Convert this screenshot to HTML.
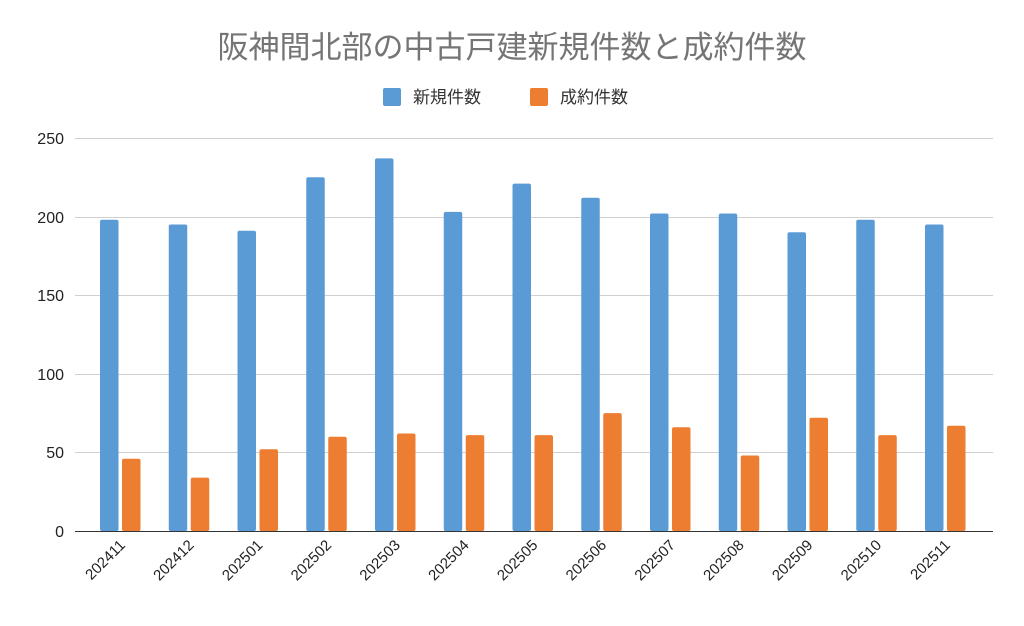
<!DOCTYPE html>
<html><head><meta charset="utf-8"><style>
body{margin:0;background:#fff;}
svg{display:block;font-family:"Liberation Sans","Noto Sans CJK JP",sans-serif;}
</style></head><body>
<svg width="1024" height="626" viewBox="0 0 1024 626">
<rect width="1024" height="626" fill="#fff"/>
<text x="512" y="58" text-anchor="middle" font-size="31" fill="#757575">阪神間北部の中古戸建新規件数と成約件数</text>
<rect x="383" y="88" width="18" height="18" rx="2" fill="#5b9bd5"/>
<text x="413" y="103" font-size="17" fill="#333">新規件数</text>
<rect x="530" y="88" width="18" height="18" rx="2" fill="#ed7d31"/>
<text x="560" y="103" font-size="17" fill="#333">成約件数</text>
<g stroke="#d0d0d0" stroke-width="1">
<line x1="75" x2="993" y1="138.5" y2="138.5"/>
<line x1="75" x2="993" y1="217.5" y2="217.5"/>
<line x1="75" x2="993" y1="295.5" y2="295.5"/>
<line x1="75" x2="993" y1="374.5" y2="374.5"/>
<line x1="75" x2="993" y1="452.5" y2="452.5"/>
</g>
<g font-size="16" fill="#222" text-anchor="end">
<text x="64" y="144">250</text><text x="64" y="223">200</text><text x="64" y="301">150</text>
<text x="64" y="380">100</text><text x="64" y="458">50</text><text x="64" y="537">0</text>
</g>
<g fill="#5b9bd5">
<rect x="100" y="219.7" width="18.5" height="311.3" rx="2"/>
<rect x="168.75" y="224.5" width="18.5" height="306.5" rx="2"/>
<rect x="237.5" y="230.7" width="18.5" height="300.3" rx="2"/>
<rect x="306.25" y="177.3" width="18.5" height="353.7" rx="2"/>
<rect x="375" y="158.4" width="18.5" height="372.6" rx="2"/>
<rect x="443.75" y="211.9" width="18.5" height="319.1" rx="2"/>
<rect x="512.5" y="183.6" width="18.5" height="347.4" rx="2"/>
<rect x="581.25" y="197.7" width="18.5" height="333.3" rx="2"/>
<rect x="650" y="213.5" width="18.5" height="317.5" rx="2"/>
<rect x="718.75" y="213.5" width="18.5" height="317.5" rx="2"/>
<rect x="787.5" y="232.3" width="18.5" height="298.7" rx="2"/>
<rect x="856.25" y="219.7" width="18.5" height="311.3" rx="2"/>
<rect x="925" y="224.5" width="18.5" height="306.5" rx="2"/>
</g>
<g fill="#ed7d31">
<rect x="122" y="458.7" width="18.5" height="72.3" rx="2"/>
<rect x="190.75" y="477.6" width="18.5" height="53.4" rx="2"/>
<rect x="259.5" y="449.3" width="18.5" height="81.7" rx="2"/>
<rect x="328.25" y="436.7" width="18.5" height="94.3" rx="2"/>
<rect x="397" y="433.5" width="18.5" height="97.5" rx="2"/>
<rect x="465.75" y="435.1" width="18.5" height="95.9" rx="2"/>
<rect x="534.5" y="435.1" width="18.5" height="95.9" rx="2"/>
<rect x="603.25" y="413.1" width="18.5" height="117.9" rx="2"/>
<rect x="672" y="427.2" width="18.5" height="103.8" rx="2"/>
<rect x="740.75" y="455.5" width="18.5" height="75.5" rx="2"/>
<rect x="809.5" y="417.8" width="18.5" height="113.2" rx="2"/>
<rect x="878.25" y="435.1" width="18.5" height="95.9" rx="2"/>
<rect x="947" y="425.7" width="18.5" height="105.3" rx="2"/>
</g>
<line x1="75" x2="993" y1="531.5" y2="531.5" stroke="#333" stroke-width="1"/>
<g font-size="15" fill="#222" text-anchor="end">
<text transform="translate(126,546) rotate(-45)">202411</text>
<text transform="translate(194.75,546) rotate(-45)">202412</text>
<text transform="translate(263.5,546) rotate(-45)">202501</text>
<text transform="translate(332.25,546) rotate(-45)">202502</text>
<text transform="translate(401,546) rotate(-45)">202503</text>
<text transform="translate(469.75,546) rotate(-45)">202504</text>
<text transform="translate(538.5,546) rotate(-45)">202505</text>
<text transform="translate(607.25,546) rotate(-45)">202506</text>
<text transform="translate(676,546) rotate(-45)">202507</text>
<text transform="translate(744.75,546) rotate(-45)">202508</text>
<text transform="translate(813.5,546) rotate(-45)">202509</text>
<text transform="translate(882.25,546) rotate(-45)">202510</text>
<text transform="translate(951,546) rotate(-45)">202511</text>
</g>
</svg>
</body></html>
